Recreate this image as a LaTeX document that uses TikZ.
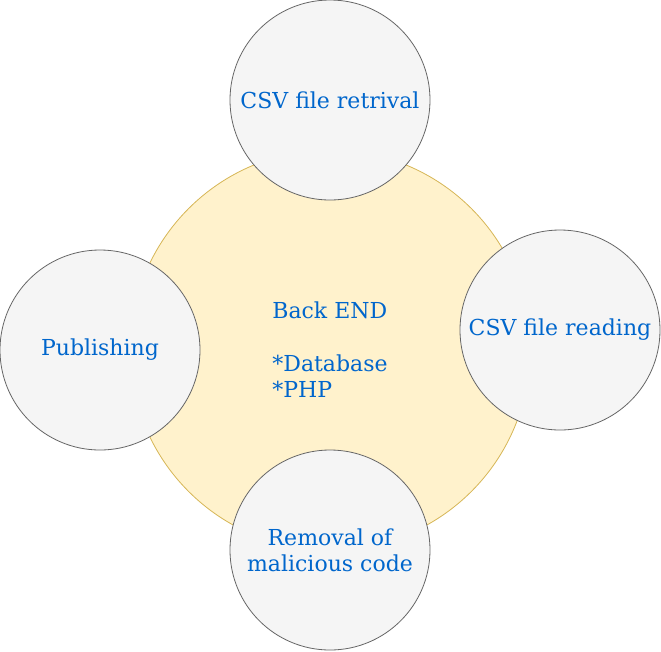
\documentclass[tikz,border=0pt]{standalone}
\usepackage{fontspec}
\setmainfont{DejaVu Serif}
\definecolor{mTextBlue}{HTML}{0066CC}
\definecolor{mCoreFill}{HTML}{FFF2CC}
\definecolor{mCoreLine}{HTML}{D6B656}
\definecolor{mStepFill}{HTML}{F5F5F5}
\definecolor{mStepLine}{HTML}{666666}
\usetikzlibrary{positioning}

\begin{document}
\begin{tikzpicture}[x=0.75pt, y=-0.75pt,
  every node/.style={font=\fontsize{16.5}{19.8}\selectfont, text=mTextBlue},
  core/.style={circle, draw=mCoreLine, line width=0.6pt, fill=mCoreFill, minimum size=300pt, inner sep=0pt, align=left},
  stage/.style={circle, draw=mStepLine, line width=0.6pt, fill=mStepFill, minimum size=150pt, inner sep=0pt, align=center}]
\useasboundingbox (0,0) rectangle (661,651);
\node[core] (backend) at (330,350) {Back END\\[19.8pt]*Database\\*PHP};
\node[stage] (retrieve) at (330,100) {CSV file retrival};
\node[stage] (read) at (560,330) {CSV file reading};
\node[stage] (clean) at (330,550) {Removal of\\malicious code};
\node[stage] (publish) at (100,350) {Publishing};
\end{tikzpicture}
\end{document}
